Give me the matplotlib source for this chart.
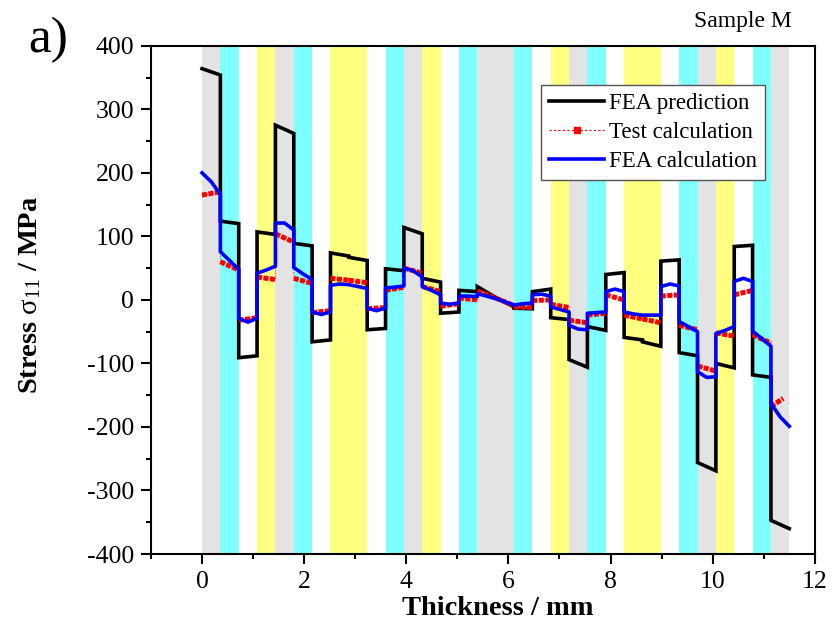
import matplotlib.pyplot as plt
import matplotlib.ticker as mticker
from matplotlib.lines import Line2D

plt.rcParams['font.family'] = ['Liberation Serif', 'DejaVu Serif']
plt.rcParams['mathtext.fontset'] = 'custom'
plt.rcParams['mathtext.rm'] = 'Liberation Serif'
plt.rcParams['mathtext.it'] = 'Liberation Serif'
plt.rcParams['axes.unicode_minus'] = False

# ply stack: G = grey, C = cyan, Y = yellow, W = unfilled
layup = ['G', 'C', 'W', 'Y', 'G', 'C', 'W', 'Y', 'Y', 'W', 'C', 'G', 'Y', 'W', 'C', 'G',
         'G', 'C', 'W', 'Y', 'G', 'C', 'W', 'Y', 'Y', 'W', 'C', 'G', 'Y', 'W', 'C', 'G']
total_thickness = 11.5
ply_colors = {'G': '#e3e3e3', 'C': '#80ffff', 'Y': '#ffff80'}

# stress at the lower / upper face of every ply (MPa)
fea_pred_start = [364, 124, -91, 107, 275, 89, -66, 74, 67, -47, 49, 114, 34, -21, 15, 21,
                  4, -13, 13, -28, -94, -42, 40, -59, -66, 61, -83, -256, -100, 84, -118, -347]
fea_pred_end = [354, 120, -88, 103, 262, 85, -63, 69, 62, -45, 46, 104, 28, -19, 13, 4,
                -11, -14, 17, -31, -106, -48, 43, -63, -73, 63, -88, -269, -107, 86, -122, -360]

test_start = [165, 60, -32, 36, 104, 34, -20, 34, 31, -14, 15, 50, 21, -10, 3, 14,
              3, -11, -1, -7, -32, -24, 8, -24, -30, 6, -40, -104, -52, 8, -55, -168]
test_end = [170, 47, -28, 32, 91, 26, -17, 31, 27, -12, 20, 42, 13, -6, 0, 3,
            -9, -12, 0, -12, -36, -21, 0, -30, -36, 8, -47, -112, -57, 15, -68, -155]
test_last_x = 11.38

# FEA calculation: lower face, mid-ply, upper face
fea_calc_start = [200, 76, -29, 42, 121, 51, -19, 23, 24, -13, 19, 50, 21, -5, 6, 10,
                  2, -8, 8, -11, -40, -21, 13, -19, -24, 21, -34, -113, -53, 29, -49, -163]
fea_calc_mid = [186, 62, -35, 47, 121, 41, -23, 25, 21, -17, 20, 46, 15, -7, 6, 6,
                -3, -6, 9, -15, -46, -20, 17, -22, -24, 25, -42, -122, -48, 34, -61, -184]
fea_calc_end = [166, 48, -29, 53, 110, 32, -19, 24, 18, -13, 22, 36, 8, -5, 5, 2,
                -8, -5, 6, -19, -47, -19, 13, -24, -24, 22, -50, -121, -42, 29, -73, -199]

t = total_thickness / len(layup)
lo = [i * t for i in range(len(layup))]
hi = [(i + 1) * t for i in range(len(layup))]
hi_test = hi[:-1] + [test_last_x]

fig = plt.figure(figsize=(8.34, 6.27), dpi=100)
ax = fig.add_axes([0.181, 0.1164, 0.796, 0.8106])

for a, b, c in zip(lo, hi, layup):
    if c in ply_colors:
        ax.axvspan(a, b, color=ply_colors[c], lw=0, zorder=0)

# FEA prediction
xs, ys = [], []
for a, b, s, e in zip(lo, hi, fea_pred_start, fea_pred_end):
    xs += [a, b]
    ys += [s, e]
ax.plot(xs, ys, color='black', lw=2.6, zorder=3, solid_joinstyle='miter')

# test calculation: thin dotted path plus dense square markers inside each ply
xs, ys = [], []
for a, b, s, e in zip(lo, hi_test, test_start, test_end):
    xs += [a, b]
    ys += [s, e]
ax.plot(xs, ys, color='red', lw=0.7, ls=':', zorder=4)
for a, b, s, e in zip(lo, hi_test, test_start, test_end):
    ax.plot([a, b], [s, e], color='red', lw=3.6, ls=(0, (1.0, 0.3)),
            solid_capstyle='butt', dash_capstyle='butt', zorder=4)

# FEA calculation
xs, ys = [], []
for a, b, s, m, e in zip(lo, hi, fea_calc_start, fea_calc_mid, fea_calc_end):
    xs += [a, (a + b) / 2, b]
    ys += [s, m, e]
ax.plot(xs, ys, color='#0000ff', lw=2.6, zorder=5)

ax.set_xlim(-1, 12)
ax.set_ylim(-400, 400)
ax.xaxis.set_major_locator(mticker.MultipleLocator(2))
ax.xaxis.set_minor_locator(mticker.MultipleLocator(1))
ax.yaxis.set_major_locator(mticker.MultipleLocator(100))
ax.yaxis.set_minor_locator(mticker.MultipleLocator(50))
ax.tick_params(which='both', direction='out', top=False, right=False,
               labelsize=18.5, width=1.5, pad=5)
ax.tick_params(which='major', length=7)
ax.tick_params(which='minor', length=3.6)
for sp in ax.spines.values():
    sp.set_linewidth(1.5)

ax.set_xlabel('Thickness / mm', fontsize=20.5, fontweight='bold')
ax.set_ylabel(r'Stress $\sigma_{11}$ / MPa', fontsize=20.5, fontweight='bold')
ax.xaxis.set_label_coords(0.523, -0.083)
ax.yaxis.set_label_coords(-0.163, 0.51)

handles = [
    Line2D([], [], color='black', lw=2.6),
    Line2D([], [], color='red', lw=0.8, ls=(0, (2, 2)), marker='s', ms=5),
    Line2D([], [], color='#0000ff', lw=2.6),
]
labels = ['FEA prediction', 'Test calculation', 'FEA calculation']
leg = ax.legend(handles, labels, loc='upper left', bbox_to_anchor=(0.588, 0.923),
                borderaxespad=0, fontsize=16.5, fancybox=False, framealpha=1,
                edgecolor='#555555', handlelength=2.4, handletextpad=0.2,
                labelspacing=0.35, borderpad=0.35)
leg.get_frame().set_linewidth(1.0)
leg.set_zorder(10)

fig.text(28 / 834, 1 - 52 / 627, 'a)', fontsize=37, va='baseline', ha='left')
fig.text(743 / 834, 1 - 27 / 627, 'Sample M', fontsize=17, va='baseline', ha='center')

fig.savefig('out.png', dpi=100)
